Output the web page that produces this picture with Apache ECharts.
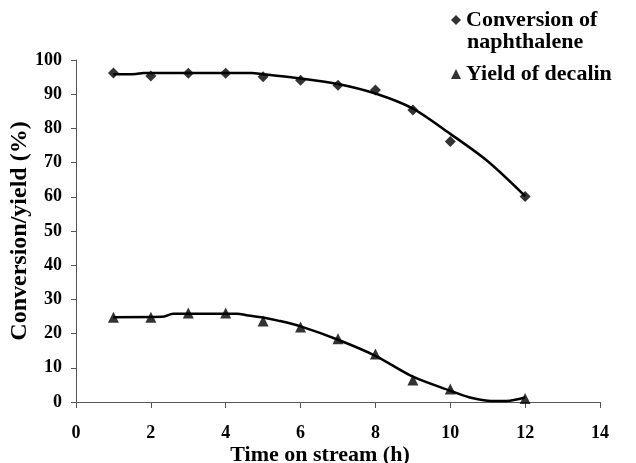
<!DOCTYPE html>
<html>
<head>
<meta charset="utf-8">
<script src="https://cdn.jsdelivr.net/npm/echarts@6/dist/echarts.min.js"></script>
<style>html,body{margin:0;padding:0;background:#fff}#c{width:636px;height:463px}</style>
</head>
<body>
<div id="c"></div>
<script>
const hours = [1, 2, 3, 4, 5, 6, 7, 8, 9, 10, 12];
const conversion = [96.2, 95.3, 96.1, 96.1, 95.1, 94.1, 92.6, 91.2, 85.4, 76.2, 60.1];
const yieldDecalin = [24.8, 24.8, 26.0, 26.0, 23.7, 21.9, 18.5, 14.0, 6.4, 3.8, 1.0];
// trend curves: [hour, value]
const conversionCurve = [[1,95.8],[1.6,95.9],[1.8,96.2],[3,96.2],[4.7,96.2],[5,95.8],[6,94.6],[7,93.0],[8,90.2],[9,85.8],[10,78.4],[11,70.4],[12,60.2]];
const yieldCurve = [[1,24.8],[2.3,24.9],[2.6,25.8],[4.3,25.8],[4.6,25.3],[5,24.7],[5.4,23.8],[6,22.1],[7,18.2],[8,13.5],[9,7.4],[10,3.3],[10.5,1.4],[11,0.4],[11.5,0.3],[12,1.3]];
const xTicks = {min: 0, max: 14, interval: 2};
const yTicks = {min: 0, max: 100, interval: 10};
const nameConv = 'Conversion of naphthalene';
const nameYield = 'Yield of decalin';

const font = '"Liberation Serif", "Times New Roman", serif';
const chart = echarts.init(document.getElementById('c'), null, {renderer: 'canvas'});
const axisCol = '#555';
const legendText = {fontFamily: font, fontWeight: 'bold', fontSize: 22, color: '#000'};
chart.setOption({
  animation: false,
  textStyle: {fontFamily: font},
  grid: {left: 76, right: 36, top: 60, bottom: 61, containLabel: false, outerBoundsMode: 'none'},
  legend: [
    {data: [{name: nameConv, icon: 'diamond'}], formatter: () => 'Conversion of', left: 446, top: 4, itemWidth: 10, itemHeight: 10, textStyle: legendText},
    {data: [{name: nameYield, icon: 'triangle'}], left: 446, top: 58, itemWidth: 10, itemHeight: 10, textStyle: legendText}
  ],
  graphic: [{type: 'text', left: 467, top: 31, style: {text: 'naphthalene', font: 'bold 22px ' + font, fill: '#000'}}],
  xAxis: {
    type: 'value', min: xTicks.min, max: xTicks.max, interval: xTicks.interval,
    name: 'Time on stream (h)', nameLocation: 'middle', nameGap: 42, nameMoveOverlap: false,
    nameTextStyle: {fontFamily: font, fontWeight: 'bold', fontSize: 22, color: '#000', padding: [0, 36, 0, 0]},
    axisLine: {show: true, lineStyle: {color: axisCol, width: 1}},
    axisTick: {show: true, length: 6, lineStyle: {color: axisCol}},
    axisLabel: {fontFamily: font, fontWeight: 'bold', fontSize: 18, color: '#000', margin: 22},
    splitLine: {show: false}
  },
  yAxis: {
    type: 'value', min: yTicks.min, max: yTicks.max, interval: yTicks.interval,
    name: 'Conversion/yield (%)', nameLocation: 'middle', nameGap: 44, nameMoveOverlap: false,
    nameTextStyle: {fontFamily: font, fontWeight: 'bold', fontSize: 24, color: '#000'},
    axisLine: {show: true, lineStyle: {color: axisCol, width: 1}},
    axisTick: {show: true, length: 5, lineStyle: {color: axisCol}},
    axisLabel: {fontFamily: font, fontWeight: 'bold', fontSize: 18, color: '#000', margin: 14},
    splitLine: {show: false}
  },
  series: [
    {name: 'convCurve', type: 'line', data: conversionCurve, smooth: 0.3, showSymbol: false, symbol: 'none',
     lineStyle: {color: '#000', width: 2.5}, itemStyle: {color: '#000'}, silent: true, z: 2},
    {name: 'yieldCurve', type: 'line', data: yieldCurve, smooth: 0.3, showSymbol: false, symbol: 'none',
     lineStyle: {color: '#000', width: 2.5}, itemStyle: {color: '#000'}, silent: true, z: 2},
    {name: nameConv, type: 'scatter', data: hours.map((h, i) => [h, conversion[i]]), symbol: 'diamond', symbolSize: 11,
     itemStyle: {color: '#000'}, z: 3},
    {name: nameYield, type: 'scatter', data: hours.map((h, i) => [h, yieldDecalin[i]]), symbol: 'triangle', symbolSize: 11,
     itemStyle: {color: '#000'}, z: 3}
  ]
});
</script>
</body>
</html>
